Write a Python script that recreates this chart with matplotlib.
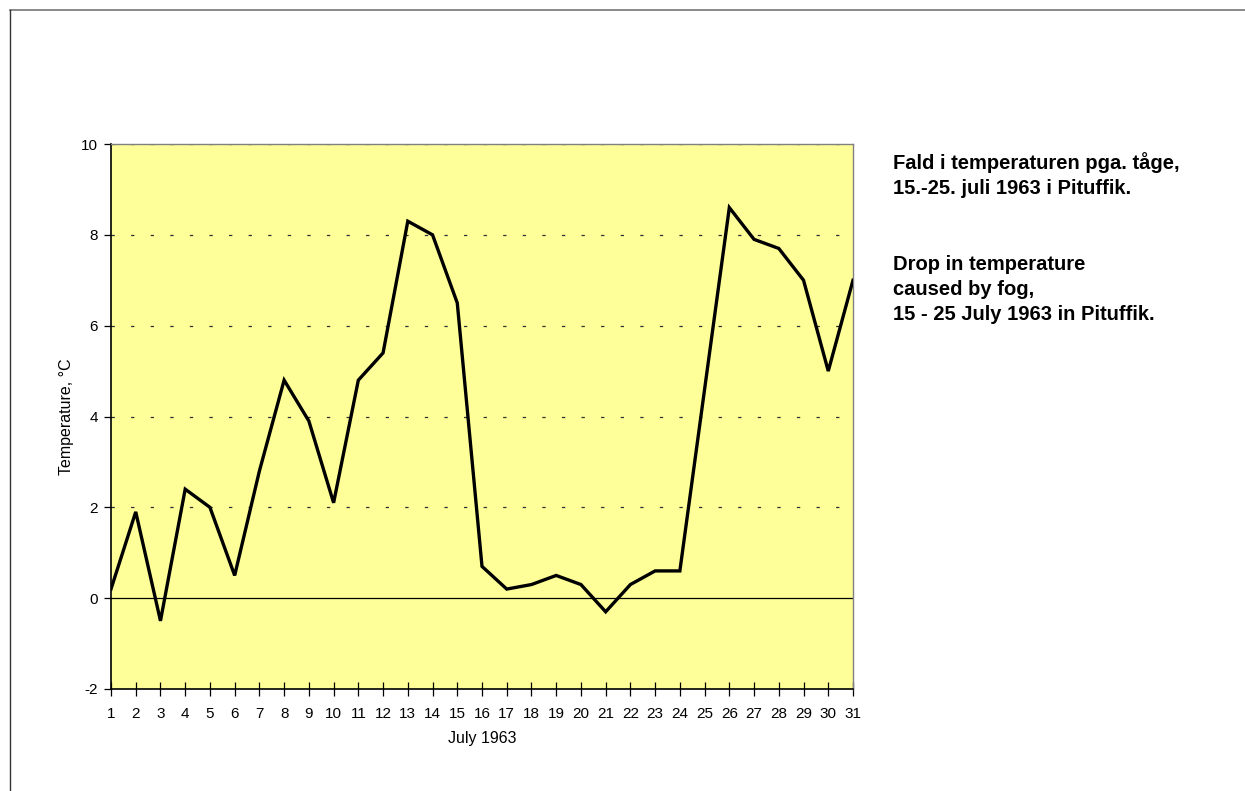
import matplotlib
matplotlib.use("Agg")
import matplotlib.pyplot as plt
from matplotlib.lines import Line2D

plt.rcParams['font.family'] = ['Liberation Sans', 'DejaVu Sans']
plt.rcParams['lines.scale_dashes'] = False

days = list(range(1, 32))
temps = [0.2, 1.9, -0.5, 2.4, 2.0, 0.5, 2.8, 4.8, 3.9, 2.1,
         4.8, 5.4, 8.3, 8.0, 6.5, 0.7, 0.2, 0.3, 0.5, 0.3,
         -0.3, 0.3, 0.6, 0.6, 4.6, 8.6, 7.9, 7.7, 7.0, 5.0, 7.0]
yticks = [-2, 0, 2, 4, 6, 8, 10]
xlabel = "July 1963"
ylabel = "Temperature, °C"
note_da = ["Fald i temperaturen pga. tåge,", "15.-25. juli 1963 i Pituffik."]
note_en = ["Drop in temperature", "caused by fog,", "15 - 25 July 1963 in Pituffik."]

W, H = 1245, 791
fig = plt.figure(figsize=(W / 100, H / 100), dpi=100)
fig.patch.set_facecolor('white')

# outer frame (top and left edges visible)
fig.add_artist(Line2D([9.5 / W, 1.0], [1 - 10 / H, 1 - 10 / H], color='#777777', lw=1.2,
                      transform=fig.transFigure))
fig.add_artist(Line2D([9.5 / W, 9.5 / W], [0, 1 - 10 / H], color='#333333', lw=1.0,
                      transform=fig.transFigure))

left, right, top, bottom = 111, 853, 144, 689
ax = fig.add_axes([left / W, 1 - bottom / H, (right - left) / W, (bottom - top) / H])
ax.set_facecolor('#FFFF99')

for g in [2, 4, 6, 8, 10]:
    ax.axhline(g, color='#303030', lw=0.9, linestyle=(0, (2.4, 11.7)), zorder=1)
ax.axhline(0, color='black', lw=0.9, zorder=2)

ax.plot(days, temps, color='black', lw=2.4, solid_joinstyle='miter', zorder=3)

ax.set_xlim(1, 31)
ax.set_ylim(-2, 10)
ax.set_xticks(days)
ax.set_xticklabels([str(d) for d in days], fontsize=11)
ax.set_yticks(yticks)
ax.set_yticklabels([str(v) for v in yticks], fontsize=11)
ax.tick_params(axis='x', direction='inout', length=10, width=0.9, pad=8, colors='black')
ax.tick_params(axis='y', direction='out', length=5, width=0.9, pad=4.5, colors='black')

for s in ['left', 'bottom']:
    ax.spines[s].set_color('black')
    ax.spines[s].set_linewidth(1.2)
for s in ['top', 'right']:
    ax.spines[s].set_color('#808080')
    ax.spines[s].set_linewidth(1.0)

ax.set_xlabel(xlabel, fontsize=11.5)
ax.xaxis.set_label_coords(0.5, (689 - 738) / 545)
ax.xaxis.label.set_va('center')
ax.set_ylabel(ylabel, fontsize=11.5)
ax.yaxis.set_label_coords((66 - 111) / 742, 0.5)
ax.yaxis.label.set_va('center')

tx = 893 / W
for i, line in enumerate(note_da):
    fig.text(tx, 1 - (169 + 25 * i) / H, line, fontsize=14.5, fontweight='bold',
             va='baseline', ha='left')
for i, line in enumerate(note_en):
    fig.text(tx, 1 - (270 + 25 * i) / H, line, fontsize=14.5, fontweight='bold',
             va='baseline', ha='left')

fig.savefig('out.png', dpi=100, facecolor='white')
